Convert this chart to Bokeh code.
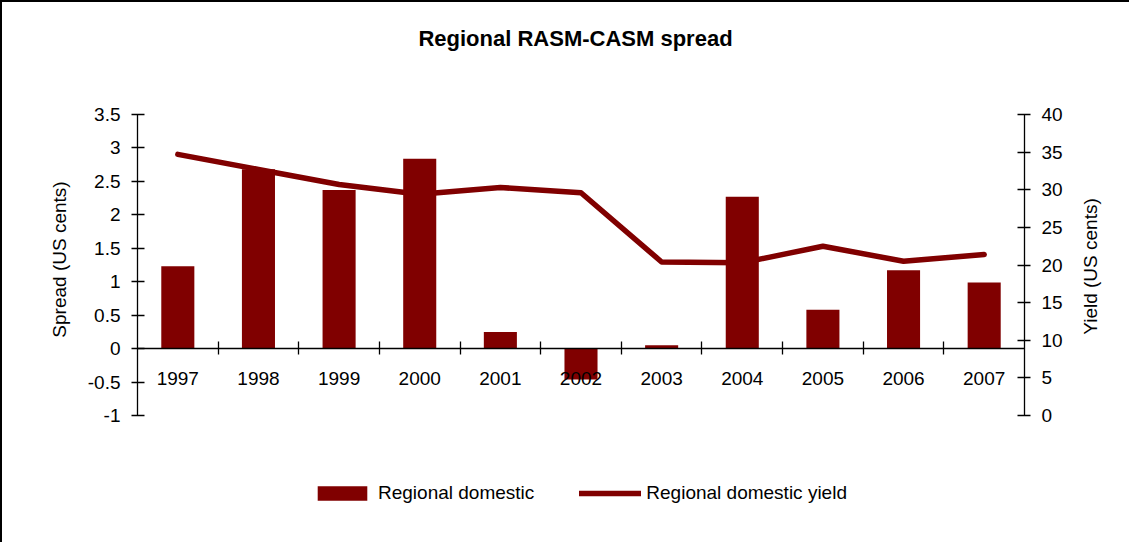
import math
from bokeh.plotting import figure
from bokeh.models import (Range1d, LinearAxis, FixedTicker, NumeralTickFormatter,
                          Legend, LegendItem, ColumnDataSource, Label)
from bokeh.embed import file_html
from bokeh.resources import INLINE

# ---- data ----
years = ["1997", "1998", "1999", "2000", "2001", "2002", "2003", "2004", "2005", "2006", "2007"]
spread = [1.23, 2.68, 2.37, 2.84, 0.25, -0.46, 0.05, 2.27, 0.58, 1.17, 0.99]
yield_cents = [34.7, 32.7, 30.7, 29.4, 30.3, 29.6, 20.4, 20.3, 22.5, 20.5, 21.4]
spread_ticks = [-1, -0.5, 0, 0.5, 1, 1.5, 2, 2.5, 3, 3.5]
yield_ticks = [0, 5, 10, 15, 20, 25, 30, 35, 40]
spread_bounds = (-1, 3.5)
yield_bounds = (0, 40)

FONT = "Liberation Sans"
RED = "#800000"

# ---- layout (pixels on the canvas) ----
W, H = 1129, 542
AX_TOP, AX_BOT = 112, 413          # vertical span of the value axes
AX_LEFT, AX_RIGHT = 135, 1022      # horizontal span of the category axis

def padded_y(lo, hi):
    per_px = (hi - lo) / (AX_BOT - AX_TOP)
    return Range1d(lo - (H - AX_BOT) * per_px, hi + AX_TOP * per_px)

n = len(years)
x_per_px = n / (AX_RIGHT - AX_LEFT)
x_range = Range1d(0 - AX_LEFT * x_per_px, n + (W - AX_RIGHT) * x_per_px)

centers = [i + 0.5 for i in range(n)]
bounds = [i for i in range(1, n)]
src = ColumnDataSource(dict(x=centers, spread=spread, yld=yield_cents, year=years))

p = figure(width=W, height=H, output_backend="svg", toolbar_location=None,
           x_range=x_range, y_range=padded_y(*spread_bounds),
           min_border_left=0, min_border_right=0, min_border_top=0, min_border_bottom=0,
           background_fill_color="white", border_fill_color="white")
p.styles = {"border-left": "2px solid black", "border-top": "2px solid black"}
p.outline_line_color = None
p.xgrid.visible = False
p.ygrid.visible = False
p.extra_y_ranges = {"yield": padded_y(*yield_bounds)}

bars = p.vbar(x="x", top="spread", bottom=0, width=0.41, source=src,
              fill_color=RED, line_color=None)
line = p.line(x="x", y="yld", source=src, y_range_name="yield",
              line_color=RED, line_width=5.5, line_join="round", line_cap="round")

# category axis at zero
xa = p.xaxis[0]
xa.fixed_location = 0
xa.bounds = (0, n)
xa.ticker = FixedTicker(ticks=centers, minor_ticks=bounds)
xa.major_label_overrides = {c: y for c, y in zip(centers, years)}
xa.major_tick_line_color = None
xa.major_tick_in = 0
xa.major_tick_out = 0
xa.minor_tick_line_color = "black"
xa.minor_tick_in = 7
xa.minor_tick_out = 6
xa.minor_tick_line_width = 1.3
xa.axis_line_color = "black"
xa.axis_line_width = 1.3
xa.major_label_standoff = 17
xa.major_label_text_font = FONT
xa.major_label_text_font_size = "19px"
xa.major_label_text_color = "black"

# left value axis
ya = p.yaxis[0]
ya.fixed_location = 0
ya.ticker = FixedTicker(ticks=spread_ticks)
ya.bounds = spread_bounds
ya.formatter = NumeralTickFormatter(format="0.[0]")

# right value axis
ra = LinearAxis(y_range_name="yield", ticker=FixedTicker(ticks=yield_ticks),
                bounds=yield_bounds, fixed_location=n)
p.add_layout(ra, "right")

for ax in (ya, ra):
    ax.minor_tick_line_color = None
    ax.major_tick_in = 7
    ax.major_tick_out = 6
    ax.major_tick_line_width = 1.3
    ax.axis_line_width = 1.3
    ax.major_label_standoff = 11
    ax.major_label_text_font = FONT
    ax.major_label_text_font_size = "19px"
    ax.major_label_text_color = "black"
    ax.axis_line_color = "black"
    ax.major_tick_line_color = "black"

def text_label(txt, x, y, size="19px", style="normal", angle=0.0):
    return Label(x=x, y=H - y, x_units="screen", y_units="screen", text=txt, angle=angle,
                 text_align="center", text_baseline="middle", text_font=FONT,
                 text_font_size=size, text_font_style=style, text_color="black")

p.add_layout(text_label("Regional RASM-CASM spread", 573, 36, size="22px", style="bold"))
p.add_layout(text_label("Spread (US cents)", 57, 257, angle=math.pi / 2))
p.add_layout(text_label("Yield (US cents)", 1088, 264, angle=math.pi / 2))

# legend
legend = Legend(items=[LegendItem(label="Regional domestic", renderers=[bars]),
                       LegendItem(label="Regional domestic yield", renderers=[line])],
                orientation="horizontal", location=(309, H - 502),
                glyph_width=62, glyph_height=18, label_height=20, label_standoff=5,
                spacing=45, padding=0, margin=0,
                border_line_color=None, background_fill_alpha=0,
                label_text_font=FONT, label_text_font_size="19px", label_text_color="black")
p.add_layout(legend, "center")

open("out.html", "w").write(file_html(p, INLINE))
